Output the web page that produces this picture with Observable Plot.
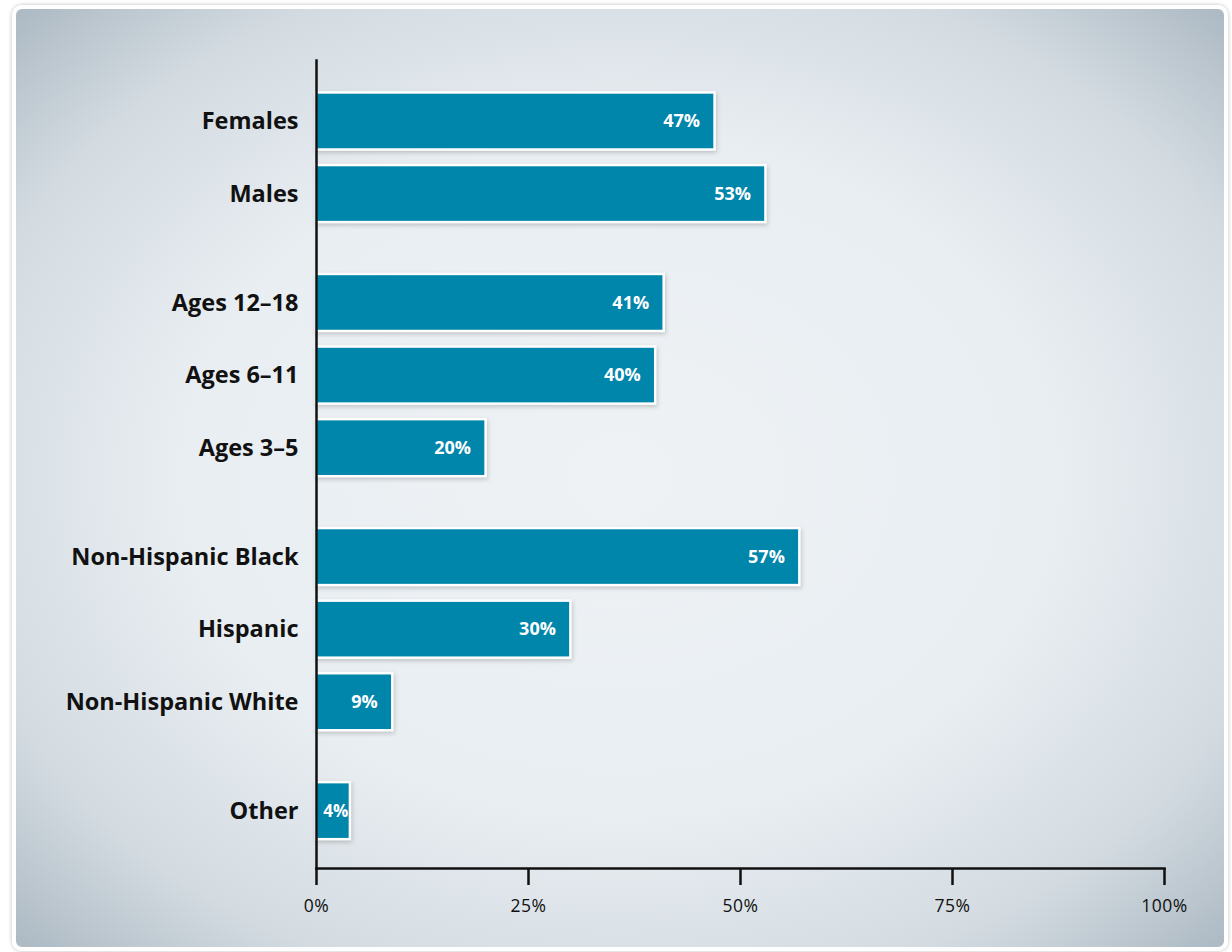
<!DOCTYPE html>
<html>
<head>
<meta charset="utf-8">
<script src="https://cdn.jsdelivr.net/npm/d3@7"></script>
<script src="https://cdn.jsdelivr.net/npm/@observablehq/plot@0.6"></script>
<style>
  html, body { margin: 0; padding: 0; background: #ffffff; width: 1232px; height: 952px; overflow: hidden; }
  #panel {
    position: absolute; left: 12px; top: 5px; width: 1208px; height: 938px;
    border: 4px solid #ffffff; border-radius: 10px;
    box-shadow: 0 0 4px rgba(0,0,0,0.25);
    background: radial-gradient(ellipse 72% 72% at 50% 50%, #eef2f5 0%, #e9eef2 50%, #d3dbe1 78%, #a9b6c0 100%);
  }
  #chart { position: absolute; left: 0; top: 0; }
  #chart svg .bars rect { filter: drop-shadow(1px 2px 2px rgba(0,0,0,0.18)); }
  #chart svg .xticks text { letter-spacing: 0.03em; }
</style>
</head>
<body>
<div id="panel"></div>
<div id="chart"></div>
<script>
const categories = ["Females", "Males", "Ages 12\u201318", "Ages 6\u201311", "Ages 3\u20135", "Non-Hispanic Black", "Hispanic", "Non-Hispanic White", "Other"];
const values = [47, 53, 41, 40, 20, 57, 30, 9, 4];
const groupIndex = [0, 0, 1, 1, 1, 2, 2, 2, 3];
const xTicks = [0, 25, 50, 75, 100];

const data = categories.map((c, i) => ({
  label: c,
  value: values[i],
  pos: i + 0.5 * groupIndex[i]
}));
const labelByPos = new Map(data.map(d => [d.pos, d.label]));

const barColor = "#0085ab";
const font = "'Open Sans', Lato, sans-serif";

const chart = Plot.plot({
  width: 1232,
  height: 952,
  marginLeft: 316,
  marginRight: 68,
  marginTop: 60,
  marginBottom: 84,
  style: { background: "transparent", fontFamily: font, color: "#111" },
  x: { domain: [0, 100], label: null },
  y: { type: "linear", domain: [-0.84, 10.29], reverse: true, label: null },
  marks: [
    Plot.rectX(data, {
      x1: 0, x2: "value",
      y1: d => d.pos - 0.393, y2: d => d.pos + 0.393,
      fill: barColor, stroke: "#ffffff", strokeWidth: 2.5,
      className: "bars"
    }),
    Plot.text(data.filter(d => d.value >= 8), {
      x: "value", y: "pos", text: d => d.value + "%",
      textAnchor: "end", dx: -15, fill: "#ffffff",
      fontSize: 18, fontWeight: 700
    }),
    Plot.text(data.filter(d => d.value < 8), {
      x: "value", y: "pos", text: d => d.value + "%",
      textAnchor: "end", dx: -2, fill: "#ffffff",
      fontSize: 17, fontWeight: 700
    }),
    Plot.frame({ anchor: "left", stroke: "#111", strokeWidth: 2.5 }),
    Plot.frame({ anchor: "bottom", stroke: "#111", strokeWidth: 2.5 }),
    Plot.axisX({
      ticks: xTicks, tickFormat: d => d + "%", tickSize: 17, tickPadding: 14,
      strokeWidth: 2.5, stroke: "#111", fontSize: 17.5, fill: "#111", label: null,
      className: "xticks"
    }),
    Plot.axisY({
      ticks: data.map(d => d.pos), tickFormat: d => labelByPos.get(d),
      tickSize: 0, tickPadding: 18, fontSize: 23.5, fontWeight: 700, fill: "#111", label: null
    })
  ]
});
document.getElementById("chart").appendChild(chart);
</script>
</body>
</html>
